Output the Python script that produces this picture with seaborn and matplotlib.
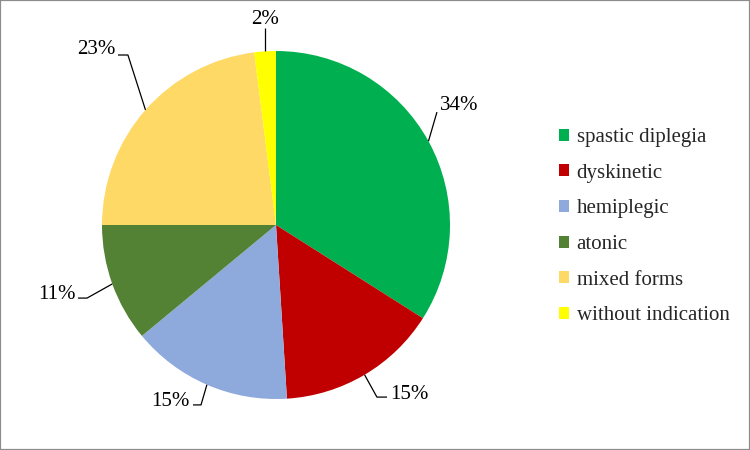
import numpy as np
import matplotlib
matplotlib.use("Agg")
import matplotlib.pyplot as plt
import seaborn as sns
from matplotlib.patches import Rectangle

categories = ["spastic diplegia", "dyskinetic", "hemiplegic", "atonic",
              "mixed forms", "without indication"]
values = [34, 15, 15, 11, 23, 2]
labels = ["34%", "15%", "15%", "11%", "23%", "2%"]
colors = ["#00B050", "#C00000", "#8EA9DB", "#548235", "#FFD966", "#FFFF00"]

# layout for data labels: elbow point, end of horizontal tick, text pos, ha
label_layout = [
    ((0.925, 0.649), None, (0.945, 0.688), "left"),
    ((0.580, -0.989), (0.638, -0.989), (0.655, -0.975), "left"),
    ((-0.431, -1.034), (-0.477, -1.034), (-0.494, -1.017), "right"),
    ((-1.086, -0.420), (-1.138, -0.420), (-1.150, -0.402), "right"),
    ((-0.851, 0.977), (-0.908, 0.977), (-0.920, 1.006), "right"),
    (None, None, (None, 1.180), "center"),
]

sns.set_theme(style="white")
plt.rcParams["font.family"] = ["Liberation Serif", "DejaVu Serif"]

fig = plt.figure(figsize=(7.5, 4.5), dpi=100)
fig.patch.set_facecolor("white")
ax = fig.add_axes([15 / 750, 7.5 / 450, 522 / 750, 435 / 450])

wedges, _ = ax.pie(values, colors=colors, startangle=90, counterclock=False,
                   radius=1.0, wedgeprops=dict(linewidth=0))
ax.set_xlim(-1.5, 1.5)
ax.set_ylim(-1.25, 1.25)
ax.set_aspect("equal")
ax.axis("off")

for w, lab, (elbow, end, tpos, ha) in zip(wedges, labels, label_layout):
    mid = np.deg2rad((w.theta1 + w.theta2) / 2)
    ex, ey = np.cos(mid), np.sin(mid)
    if elbow is None:
        elbow = (ex, 1.132)
        tpos = (ex, tpos[1])
    xs = [ex, elbow[0]]
    ys = [ey, elbow[1]]
    if end is not None:
        xs.append(end[0])
        ys.append(end[1])
    ax.plot(xs, ys, color="black", lw=0.9, solid_capstyle="butt")
    ax.text(tpos[0], tpos[1], lab, ha=ha, va="center", fontsize=15,
            color="black")

leg = fig.legend(wedges, categories, loc="upper left",
                 bbox_to_anchor=(559 / 750, 1 - 128 / 450),
                 frameon=False, fontsize=15, handlelength=0.5,
                 handleheight=0.5, handletextpad=0.35, labelspacing=0.8,
                 borderpad=0, borderaxespad=0)

fig.patches.append(Rectangle((0, 0), 1, 1, transform=fig.transFigure,
                             fill=False, edgecolor="#8C8C8C", lw=1.6))

fig.savefig("out.png", dpi=100, facecolor="white")
